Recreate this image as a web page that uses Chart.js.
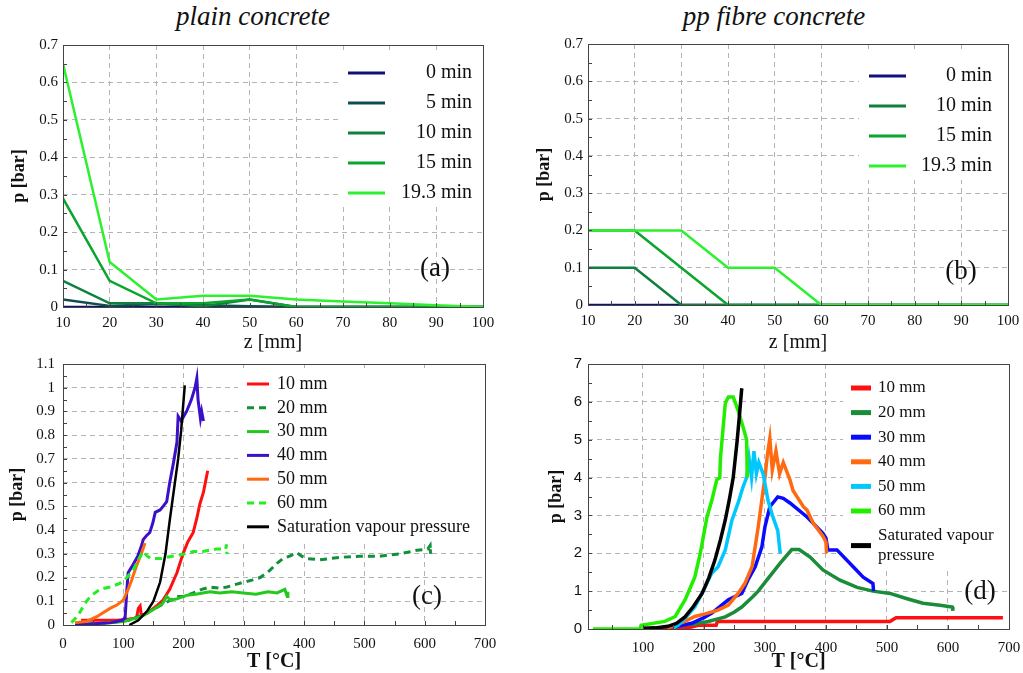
<!DOCTYPE html>
<html>
<head>
<meta charset="utf-8">
<script src="https://cdn.jsdelivr.net/npm/chart.js@4.4.0/dist/chart.umd.min.js"></script>
<style>
  body { margin: 0; background: #fff; width: 1023px; height: 673px; position: relative; overflow: hidden;
         font-family: 'Liberation Serif', 'Times New Roman', serif; color: #111; }
  .panel { position: absolute; }
  .title { position: absolute; top: 3px; font-style: italic; font-size: 27px; line-height: 1; transform: translateX(-50%); white-space: nowrap; }
  .tag { position: absolute; font-size: 27px; line-height: 1; transform: translate(-50%, -50%); }
</style>
</head>
<body>
<div class="title" style="left:253px">plain concrete</div>
<div class="title" style="left:774px">pp fibre concrete</div>

<div class="panel" style="left:0; top:30px; width:500px; height:325px"><canvas id="chartA"></canvas></div>
<div class="panel" style="left:510px; top:30px; width:513px; height:325px"><canvas id="chartB"></canvas></div>
<div class="panel" style="left:0; top:355px; width:500px; height:320px"><canvas id="chartC"></canvas></div>
<div class="panel" style="left:510px; top:355px; width:513px; height:320px"><canvas id="chartD"></canvas></div>

<div class="tag" style="left:435px; top:267px">(a)</div>
<div class="tag" style="left:961px; top:270px">(b)</div>
<div class="tag" style="left:427px; top:595px">(c)</div>
<div class="tag" style="left:980px; top:590px">(d)</div>

<script>
// depth profiles, z in mm
const zPositions = [10, 20, 30, 40, 50, 60, 70, 80, 90, 100];

// plain concrete, p [bar] per depth
const plainLabels = ['0 min', '5 min', '10 min', '15 min', '19.3 min'];
const plain0 = [0, 0, 0, 0, 0, 0, 0, 0, 0, 0];
const plain5 = [0.02, 0.003, 0.008, 0.005, 0.002, 0, 0, 0, 0, 0];
const plain10 = [0.07, 0.01, 0.01, 0.002, 0.02, 0, 0, 0, 0, 0];
const plain15 = [0.29, 0.07, 0.01, 0.01, 0.02, 0, 0, 0, 0, 0];
const plain193 = [0.65, 0.12, 0.02, 0.03, 0.03, 0.02, 0.015, 0.01, 0.005, 0];

// pp fibre concrete, p [bar] per depth
const fibreLabels = ['0 min', '10 min', '15 min', '19.3 min'];
const fibre0 = [0, 0, 0, 0, 0, 0, 0, 0, 0, 0];
const fibre10 = [0.1, 0.1, 0, 0, 0, 0, 0, 0, 0, 0];
const fibre15 = [0.2, 0.2, 0.1, 0, 0, 0, 0, 0, 0, 0];
const fibre193 = [0.2, 0.2, 0.2, 0.1, 0.1, 0, 0, 0, 0, 0];

// plain concrete, [T °C, p bar] per sensor depth
const plainT10 = [[30,0.02],[60,0.02],[90,0.02],[110,0.025],[122,0.03],[125,0.07],[128,0.08],[130,0.04],[140,0.05],[155,0.08],[166,0.105],[177,0.15],[189,0.22],[199,0.30],[207,0.35],[216,0.39],[222,0.45],[227,0.51],[233,0.56],[240,0.65]];
const plainT20 = [[20,0],[50,0.005],[80,0.01],[110,0.02],[130,0.04],[145,0.06],[160,0.08],[175,0.1],[189,0.12],[200,0.12],[216,0.135],[230,0.15],[244,0.16],[260,0.155],[272,0.16],[285,0.17],[299,0.18],[315,0.19],[327,0.2],[343,0.23],[355,0.26],[365,0.28],[376,0.29],[388,0.305],[396,0.29],[404,0.28],[426,0.275],[459,0.285],[492,0.29],[525,0.29],[559,0.3],[587,0.315],[605,0.32],[609,0.335],[610,0.3],[609,0.32]];
const plainT30 = [[20,0],[60,0.005],[100,0.015],[130,0.035],[150,0.065],[165,0.09],[172,0.12],[178,0.105],[189,0.11],[205,0.125],[220,0.13],[244,0.14],[260,0.135],[280,0.14],[299,0.135],[320,0.13],[340,0.14],[355,0.135],[368,0.15],[372,0.12],[373,0.14]];
const plainT40 = [[20,0],[50,0.005],[80,0.01],[98,0.02],[103,0.03],[106,0.15],[108,0.22],[114,0.245],[124,0.29],[131,0.34],[133,0.36],[138,0.375],[144,0.39],[149,0.43],[153,0.475],[161,0.485],[166,0.5],[172,0.52],[177,0.6],[183,0.68],[189,0.77],[191,0.88],[196,0.86],[205,0.9],[213,0.95],[219,1.0],[222,1.04],[224,0.95],[228,0.87],[230,0.9],[233,0.86]];
const plainT50 = [[20,0.01],[39,0.015],[56,0.035],[78,0.07],[90,0.085],[100,0.105],[108,0.15],[114,0.19],[122,0.25],[130,0.3],[136,0.345]];
const plainT60 = [[14,0.01],[25,0.04],[36,0.09],[45,0.12],[61,0.15],[78,0.16],[94,0.175],[106,0.2],[116,0.23],[124,0.27],[133,0.31],[140,0.29],[146,0.28],[163,0.28],[181,0.29],[204,0.3],[216,0.31],[232,0.31],[254,0.32],[270,0.32],[271,0.34],[272,0.3]];
const plainSat = [[110,0],[125,0.02],[140,0.06],[150,0.1],[161,0.18],[170,0.3],[177,0.44],[184,0.57],[191,0.7],[196,0.82],[202,1.01]];

// pp fibre concrete, [T °C, p bar] per sensor depth
const fibreT10 = [[120,0],[150,0.02],[180,0.05],[190,0.1],[220,0.1],[222,0.2],[300,0.2],[400,0.2],[505,0.2],[510,0.25],[515,0.3],[600,0.3],[690,0.3]];
const fibreT20 = [[140,0.05],[160,0.1],[185,0.13],[207,0.2],[235,0.32],[250,0.45],[262,0.58],[280,0.85],[289,1.0],[303,1.29],[325,1.74],[344,2.1],[356,2.1],[374,1.9],[395,1.56],[423,1.29],[451,1.1],[477,1.0],[505,0.94],[533,0.8],[559,0.68],[587,0.63],[607,0.58],[608,0.48]];
const fibreT30 = [[150,0.05],[180,0.15],[200,0.3],[213,0.42],[240,0.77],[262,0.94],[272,1.29],[284,1.64],[295,2.17],[300,2.7],[308,3.23],[321,3.49],[330,3.45],[341,3.33],[369,2.96],[395,2.53],[400,2.4],[403,2.09],[418,2.09],[445,1.64],[461,1.37],[477,1.2],[478,1.0]];
const fibreT40 = [[140,0.03],[169,0.2],[185,0.33],[202,0.4],[223,0.5],[240,0.63],[256,0.94],[267,1.2],[279,1.65],[289,2.7],[297,3.66],[300,4.0],[304,4.6],[308,5.03],[312,4.2],[318,4.7],[324,4.1],[330,4.4],[341,3.94],[346,3.66],[363,3.23],[369,3.14],[379,2.8],[395,2.45],[400,2.3],[401,2.0]];
const fibreT50 = [[150,0.03],[158,0.1],[170,0.3],[185,0.58],[197,0.95],[213,1.48],[223,1.64],[235,2.09],[246,2.88],[256,3.33],[264,3.75],[270,4.0],[274,4.5],[278,4.0],[282,4.7],[286,4.1],[290,4.4],[297,4.1],[305,3.4],[313,2.96],[321,2.6],[325,2.0]];
const fibreT60 = [[18,0],[95,0],[97,0.1],[136,0.2],[153,0.33],[169,0.77],[185,1.37],[194,2.0],[205,2.96],[213,3.4],[221,3.94],[226,4.0],[227,4.5],[235,5.96],[240,6.13],[248,6.13],[256,5.77],[264,5.34],[270,5.0],[271,4.0]];
const fibreSat = [[100,0.02],[120,0.03],[141,0.07],[155,0.15],[169,0.32],[183,0.6],[197,0.94],[208,1.35],[218,1.82],[227,2.35],[235,2.88],[242,3.45],[248,4.0],[254,4.9],[258,5.6],[262,6.36]];

const depthLabels = ['10 mm', '20 mm', '30 mm', '40 mm', '50 mm', '60 mm'];
const fibreTTicks = [100, 200, 300, 400, 500, 600, 700];

const serif = "'Liberation Serif', 'Times New Roman', serif";
const sans = "'Liberation Sans', Arial, sans-serif";

const toXY = pairs => pairs.map(([x, y]) => ({ x, y }));
const zipZ = vals => vals.map((y, i) => ({ x: zPositions[i], y }));
const oneDecimal = v => (Math.abs(v) < 1e-9 ? '0' : String(+v.toFixed(1)));

// white legend box, minor ticks and the plot frame
const panelDecor = {
  id: 'panelDecor',
  beforeDatasetsDraw(chart, args, opts) {
    const lg = opts.legend;
    if (!lg) return;
    const ctx = chart.ctx;
    ctx.save();
    ctx.fillStyle = '#fff';
    ctx.fillRect(lg.box[0], lg.box[1], lg.box[2], lg.box[3]);
    chart.data.datasets.forEach((ds, i) => {
      const y = lg.y0 + i * lg.dy;
      const lines = Array.isArray(ds.label) ? ds.label : [ds.label];
      const ly = y + (lines.length - 1) * lg.gap / 2;
      ctx.strokeStyle = ds.borderColor;
      ctx.lineWidth = lg.lineWidth;
      ctx.setLineDash(ds.borderDash || []);
      ctx.beginPath();
      ctx.moveTo(lg.x0, ly);
      ctx.lineTo(lg.x1, ly);
      ctx.stroke();
      ctx.setLineDash([]);
      ctx.fillStyle = '#111';
      ctx.font = lg.font;
      ctx.textAlign = lg.align;
      ctx.textBaseline = 'middle';
      lines.forEach((t, k) => ctx.fillText(t, lg.tx, y + k * lg.gap));
    });
    ctx.restore();
  },
  afterDraw(chart, args, opts) {
    const ctx = chart.ctx;
    const { left, right, top, bottom } = chart.chartArea;
    const xs = chart.scales.x, ys = chart.scales.y;
    ctx.save();
    ctx.strokeStyle = '#444';
    ctx.lineWidth = 1;
    ctx.beginPath();
    if (opts.minorX) {
      for (let v = Math.ceil(xs.min / opts.minorX) * opts.minorX; v <= xs.max; v += opts.minorX) {
        const px = Math.round(xs.getPixelForValue(v)) + 0.5;
        ctx.moveTo(px, bottom);
        ctx.lineTo(px, bottom - 4);
      }
    }
    if (opts.minorY) {
      for (let v = Math.ceil(ys.min / opts.minorY) * opts.minorY; v <= ys.max + 1e-9; v += opts.minorY) {
        const py = Math.round(ys.getPixelForValue(v)) + 0.5;
        ctx.moveTo(left, py);
        ctx.lineTo(left + 4, py);
      }
    }
    ctx.stroke();
    ctx.strokeRect(Math.round(left) + 0.5, Math.round(top) + 0.5, Math.round(right - left), Math.round(bottom - top));
    ctx.restore();
  }
};

function buildScales(o) {
  const x = {
    type: 'linear', min: o.xMin, max: o.xMax,
    // fixed axis height, and no extra room for the end labels
    afterFit: s => { s.height = o.xH; s.paddingLeft = 0; s.paddingRight = 0; },
    ticks: {
      stepSize: o.xStep, autoSkip: false, maxRotation: 0, padding: o.xPad, color: '#111',
      font: { family: serif, size: o.xTickSize },
      callback: v => String(v)
    },
    grid: { color: '#b4b4b4', lineWidth: 1, drawTicks: false },
    border: { display: false, dash: [5, 4] },
    title: {
      display: true, text: o.xTitle, color: '#111', padding: { top: 0, bottom: o.xTitlePad },
      font: { family: serif, size: o.xTitleSize, weight: o.xTitleWeight }
    }
  };
  // fixed tick list when the axis does not start on a tick
  if (o.xTicks) x.afterBuildTicks = s => { s.ticks = o.xTicks.map(value => ({ value })); };
  return {
    x,
    y: {
      min: 0, max: o.yMax,
      afterFit: s => { s.width = o.yW; s.paddingTop = 0; s.paddingBottom = 0; },
      ticks: {
        stepSize: o.yStep, autoSkip: false, padding: o.yPad, color: '#111',
        font: { family: o.yTickFamily || serif, size: o.yTickSize },
        callback: o.yFmt
      },
      grid: { color: '#b4b4b4', lineWidth: 1, drawTicks: false },
      border: { display: false, dash: [5, 4] },
      title: {
        display: true, text: 'p [bar]', color: '#111', padding: { top: o.yTitlePad, bottom: 0 },
        font: { family: serif, size: o.yTitleSize, weight: 'bold' }
      }
    }
  };
}

function makeChart(id, datasets, scales, layoutPad, decor) {
  new Chart(document.getElementById(id), {
    type: 'line',
    data: { datasets },
    options: {
      responsive: true,
      maintainAspectRatio: false,
      animation: false,
      layout: { padding: layoutPad },
      elements: { point: { radius: 0 }, line: { tension: 0 } },
      plugins: { legend: { display: false }, tooltip: { enabled: false }, panelDecor: decor },
      scales
    },
    plugins: [panelDecor]
  });
}

function series(label, data, color, width, dash, i) {
  return { label, data, borderColor: color, borderWidth: width, borderDash: dash || [], fill: false, order: -i };
}

// (a) plain concrete, pressure profiles
const plainColors = ['#10107a', '#0f4e50', '#10803f', '#0aa52c', '#2ef02e'];
makeChart('chartA',
  [plain0, plain5, plain10, plain15, plain193].map((vals, i) =>
    series(plainLabels[i], zipZ(vals), plainColors[i], 2.5, null, i)),
  buildScales({
    xMin: 10, xMax: 100, xStep: 10, xH: 48, xPad: 7, xTickSize: 15,
    xTitle: 'z [mm]', xTitleSize: 20, xTitleWeight: 'normal', xTitlePad: 0,
    yMax: 0.7, yStep: 0.1, yW: 63, yPad: 5, yTickSize: 15, yFmt: oneDecimal, yTitleSize: 18, yTitlePad: 9
  }),
  { top: 15, right: 17, left: 0, bottom: 0 },
  { minorX: 5, minorY: 0.05,
    legend: { box: [338, 22, 150, 153], y0: 43, dy: 30, gap: 20, x0: 348, x1: 385, tx: 472, align: 'right', font: `20px ${serif}`, lineWidth: 3 } }
);

// (b) pp fibre concrete, pressure profiles
const fibreColors = ['#10107a', '#10803f', '#0aa52c', '#2ef02e'];
makeChart('chartB',
  [fibre0, fibre10, fibre15, fibre193].map((vals, i) =>
    series(fibreLabels[i], zipZ(vals), fibreColors[i], 2.5, null, i)),
  buildScales({
    xMin: 10, xMax: 100, xStep: 10, xH: 50, xPad: 7, xTickSize: 15,
    xTitle: 'z [mm]', xTitleSize: 20, xTitleWeight: 'normal', xTitlePad: 0,
    yMax: 0.7, yStep: 0.1, yW: 78, yPad: 5, yTickSize: 15, yFmt: oneDecimal, yTitleSize: 18, yTitlePad: 24
  }),
  { top: 14, right: 15, left: 0, bottom: 0 },
  { minorX: 5, minorY: 0.05,
    legend: { box: [349, 20, 152, 130], y0: 46, dy: 30, gap: 20, x0: 359, x1: 396, tx: 482, align: 'right', font: `20px ${serif}`, lineWidth: 3 } }
);

// (c) plain concrete, pressure against temperature
const plainTColors = ['#ff1010', '#10903a', '#22c81e', '#3a10c8', '#ff6a10', '#22ee22', '#000000'];
const plainTDash = [null, [7, 5], null, null, null, [7, 5], null];
makeChart('chartC',
  [plainT10, plainT20, plainT30, plainT40, plainT50, plainT60, plainSat].map((pairs, i) =>
    series(i < 6 ? depthLabels[i] : 'Saturation vapour pressure', toXY(pairs), plainTColors[i], i === 6 ? 2.5 : 3, plainTDash[i], i)),
  buildScales({
    xMin: 0, xMax: 700, xStep: 100, xH: 50, xPad: 10, xTickSize: 15,
    xTitle: 'T [°C]', xTitleSize: 20, xTitleWeight: 'bold', xTitlePad: 1,
    yMax: 1.1, yStep: 0.1, yW: 63, yPad: 8, yTickSize: 15, yFmt: oneDecimal, yTitleSize: 18, yTitlePad: 7
  }),
  { top: 9, right: 15, left: 0, bottom: 0 },
  { minorX: 50, minorY: 0.05,
    legend: { box: [238, 13, 250, 172], y0: 29, dy: 23.8, gap: 20, x0: 247, x1: 269, tx: 277, align: 'left', font: `18px ${serif}`, lineWidth: 3 } }
);

// (d) pp fibre concrete, pressure against temperature
const fibreTColors = ['#ff0f0f', '#1a8c3a', '#0a0aff', '#ff6a10', '#00c8ff', '#22ee00', '#000000'];
makeChart('chartD',
  [fibreT10, fibreT20, fibreT30, fibreT40, fibreT50, fibreT60, fibreSat].map((pairs, i) =>
    series(i < 6 ? depthLabels[i] : ['Saturated vapour', 'pressure'], toXY(pairs), fibreTColors[i], 3.5, null, i)),
  buildScales({
    xMin: 10, xMax: 700, xStep: 100, xTicks: fibreTTicks, xH: 46, xPad: 10, xTickSize: 15,
    xTitle: 'T [°C]', xTitleSize: 20, xTitleWeight: 'bold', xTitlePad: 1,
    yMax: 7, yStep: 1, yW: 78, yPad: 6, yTickSize: 15, yTickFamily: sans, yFmt: v => String(v), yTitleSize: 18, yTitlePad: 36
  }),
  { top: 9, right: 14, left: 0, bottom: 0 },
  { minorX: 50, minorY: 0.5,
    legend: { box: [333, 10, 170, 205], y0: 33, dy: 24.6, gap: 20, x0: 341, x1: 361, tx: 368, align: 'left', font: `17px ${serif}`, lineWidth: 5 } }
);
</script>
</body>
</html>
